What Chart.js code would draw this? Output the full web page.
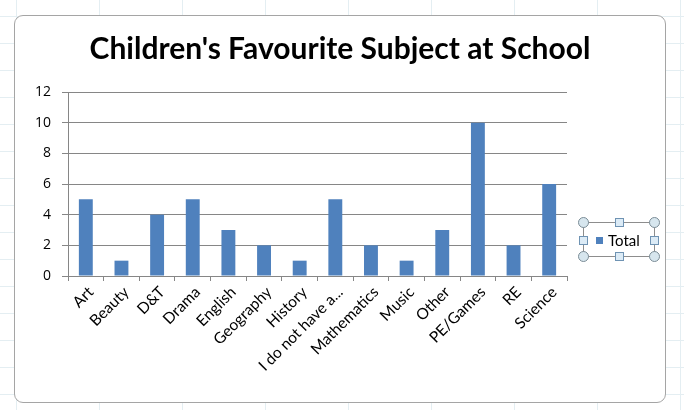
<!DOCTYPE html>
<html>
<head>
<meta charset="utf-8">
<script src="https://cdn.jsdelivr.net/npm/chart.js@4.4.1/dist/chart.umd.min.js"></script>
<style>
    html, body {
        margin: 0;
        padding: 0;
        width: 684px;
        height: 410px;
        overflow: hidden;
        background: #ffffff;
    }
    .sheet {
        position: absolute;
        left: 0; top: 0;
        width: 684px; height: 410px;
        background-image:
            linear-gradient(to bottom, #e4eef2 1px, transparent 1px),
            linear-gradient(to right, #e4eef2 1px, transparent 1px);
        background-size: 100% 27px, 83px 100%;
        background-position: 0 16px, 16px 0;
    }
    .frame {
        position: absolute;
        left: 14px; top: 15px;
        width: 652px; height: 388px;
        box-sizing: border-box;
        border: 1px solid #a5a5a5;
        border-radius: 9px;
        background: #ffffff;
    }
    #chartWrap {
        position: absolute;
        left: 14px; top: 15px;
        width: 652px; height: 388px;
    }
    .legend {
        position: absolute;
        left: 596px; top: 230px;
        font-family: Lato, "Open Sans", sans-serif;
        font-size: 15px;
        color: #000;
        line-height: 20px;
        white-space: nowrap;
    }
    .legend .sw {
        display: inline-block;
        width: 7px; height: 7px;
        background: #4f81bd;
        margin-right: 5px;
        vertical-align: 2px;
    }
    .hline, .vline {
        position: absolute;
        background: #8d8d8d;
    }
    .hline { height: 1px; }
    .vline { width: 1px; }
    .hc {
        position: absolute;
        width: 11px; height: 11px;
        box-sizing: border-box;
        border: 1px solid #7b8c96;
        border-radius: 50%;
        background: #d7e6ee;
    }
    .hs {
        position: absolute;
        width: 9px; height: 9px;
        box-sizing: border-box;
        border: 1px solid #6f93b3;
        background: #dcebf6;
    }
</style>
</head>
<body>
<div class="sheet"></div>
<div class="frame"></div>
<div id="chartWrap"><canvas id="favChart" width="652" height="388"></canvas></div>

<!-- selected legend box with its handles -->
<div class="hline" style="left:583px; top:222px; width:71px;"></div>
<div class="hline" style="left:583px; top:256px; width:71px;"></div>
<div class="vline" style="left:583px; top:222px; height:34px;"></div>
<div class="vline" style="left:654px; top:222px; height:34px;"></div>
<div class="hc" style="left:578px; top:217px;"></div>
<div class="hc" style="left:649px; top:217px;"></div>
<div class="hc" style="left:578px; top:251px;"></div>
<div class="hc" style="left:649px; top:251px;"></div>
<div class="hs" style="left:615px; top:218px;"></div>
<div class="hs" style="left:615px; top:252px;"></div>
<div class="hs" style="left:579px; top:236px;"></div>
<div class="hs" style="left:650px; top:236px;"></div>
<div class="legend"><span class="sw"></span>Total</div>

<script>
const subjects = ["Art", "Beauty", "D&T", "Drama", "English", "Geography", "History",
    "I do not have a...", "Mathematics", "Music", "Other", "PE/Games", "RE", "Science"];

const totals = [5, 1, 4, 5, 3, 2, 1, 5, 2, 1, 3, 10, 2, 6];

const yTicks = [0, 2, 4, 6, 8, 10, 12];

const chartTitle = "Children's Favourite Subject at School";
const seriesName = "Total";

function renderChart() {

    const ctx = document
        .getElementById("favChart")
        .getContext("2d");

    new Chart(ctx, {

        type: "bar",

        data: {
            labels: subjects,
            datasets: [{
                label: seriesName,
                data: totals,
                backgroundColor: "#4f81bd",
                borderWidth: 0,
                barPercentage: 0.39,
                categoryPercentage: 1
            }]
        },

        options: {
            responsive: false,
            animation: false,
            layout: {
                padding: 0
            },
            plugins: {
                legend: { display: false },
                tooltip: { enabled: false },
                title: {
                    display: true,
                    text: chartTitle,
                    color: "#000",
                    font: { family: "Lato", size: 30, weight: "bold", lineHeight: 1.2 },
                    padding: { top: 16, bottom: 25 }
                }
            },
            scales: {
                x: {
                    offset: true,
                    grid: {
                        display: true,
                        offset: true,
                        drawOnChartArea: false,
                        color: "#868686",
                        tickLength: 5
                    },
                    border: { color: "#868686" },
                    ticks: {
                        color: "#000",
                        font: { family: "Lato", size: 15.5 },
                        maxRotation: 45,
                        minRotation: 45,
                        autoSkip: false,
                        labelOffset: 5,
                        padding: 2
                    },
                    afterFit(scale) {
                        scale.height = 127;
                    }
                },
                y: {
                    min: 0,
                    max: 12,
                    afterBuildTicks(scale) {
                        scale.ticks = yTicks.map(v => ({ value: v }));
                    },
                    grid: {
                        color: "#868686",
                        tickLength: 6
                    },
                    border: { color: "#868686" },
                    ticks: {
                        color: "#000",
                        font: { family: "Open Sans", size: 14 },
                        padding: 11
                    },
                    afterFit(scale) {
                        scale.width = 54;
                    }
                },
                // empty space on the right where the legend sits
                legendSpace: {
                    type: "linear",
                    position: "right",
                    grid: { display: false },
                    border: { display: false },
                    ticks: { display: false },
                    afterFit(scale) {
                        scale.width = 99;
                    }
                }
            }
        }

    });

}

renderChart();
</script>
</body>
</html>
